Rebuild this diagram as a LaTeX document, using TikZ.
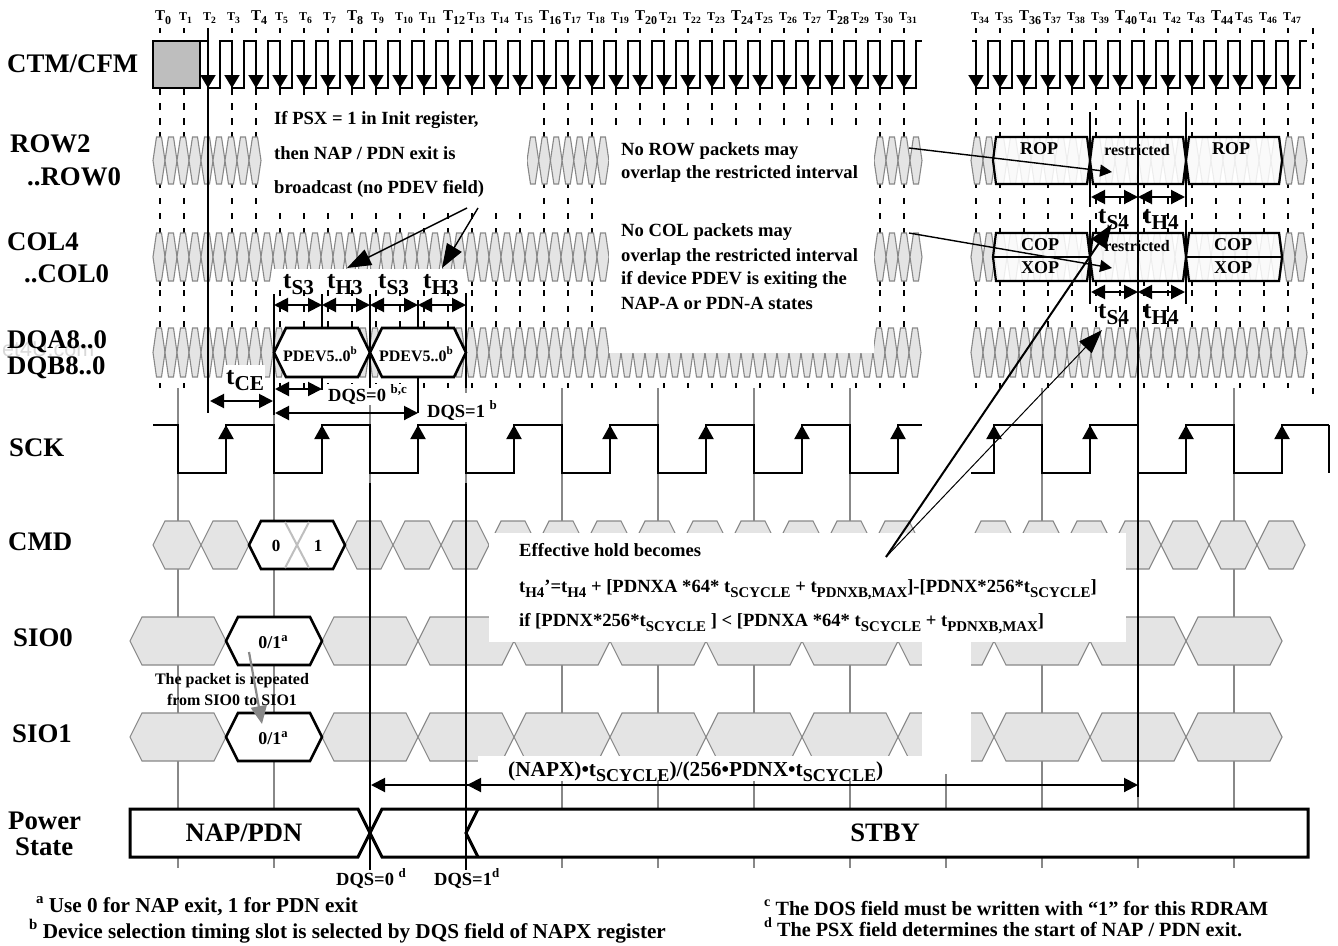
\documentclass[tikz,border=0pt]{standalone}
\usepackage{fontspec}
\setmainfont{Liberation Serif}
\newfontfamily\marksans{Liberation Sans}
\usetikzlibrary{arrows.meta}
\definecolor{cellGray}{HTML}{E4E4E4}
\definecolor{edgeGray}{HTML}{888888}
\definecolor{boxGray}{HTML}{BEBEBE}
\definecolor{markGray}{HTML}{D8D8D8}
\newcommand{\dn}[2][.85]{\raisebox{-.27em}{\scalebox{#1}{#2}}}
\newcommand{\up}[2][.7]{\raisebox{.42em}{\scalebox{#1}{#2}}}
\newcommand{\sized}[1]{\fontsize{#1}{#1}\selectfont\bfseries}
\newcommand{\hexrow}[6]{%
  \foreach \k in {0,...,#2} {
    \draw[hexcell] ({#1+\k*#3},{(#5+#6)/2}) -- ({#1+\k*#3+#4},#5) -- ({#1+(\k+1)*#3-#4},#5)
      -- ({#1+(\k+1)*#3},{(#5+#6)/2}) -- ({#1+(\k+1)*#3-#4},#6) -- ({#1+\k*#3+#4},#6) -- cycle;
  }}
\newcommand{\packet}[6]{%
  \draw[#6] (#1,{(#4+#5)/2}) -- ({#1+#3},#4) -- ({#2-#3},#4) -- (#2,{(#4+#5)/2})
    -- ({#2-#3},#5) -- ({#1+#3},#5) -- cycle;}
\newcommand{\clockticks}{0,...,31,34,35,36,37,38,39,40,41,42,43,44,45,46,47}

\begin{document}
\begin{tikzpicture}[
  x=1pt, y=-1pt,
  hexcell/.style={draw=edgeGray, fill=cellGray, line width=1.1pt},
  wipe/.style={fill=white, draw=none},
  tick/.style={draw=black, line width=1.6pt},
  grid/.style={draw=edgeGray, line width=1.5pt},
  wave/.style={draw=black, line width=2pt},
  solid hex/.style={draw=black, fill=white, line width=2.6pt},
  veil hex/.style={draw=black, fill=white, fill opacity=.85, line width=2.2pt},
  rowname/.style={font=\sized{26.8}, anchor=base west, inner sep=0pt},
  note/.style={font=\sized{18.6}, anchor=base west, inner sep=0pt},
  timing/.style={font=\sized{25}, anchor=base west, inner sep=0pt},
  foot/.style={font=\sized{18.5}, anchor=base west, inner sep=0pt},
  legend/.style={font=\sized{21.2}, anchor=base west, inner sep=0pt},
  field/.style={font=\sized{16}, inner sep=0pt},
  span/.style={{Triangle[length=14pt,width=14pt]}-{Triangle[length=14pt,width=14pt]}, line width=2pt},
  edgefall/.style={-{Triangle[length=13pt,width=15pt]}, line width=2pt},
  edgerise/.style={-{Triangle[length=14pt,width=15pt]}, line width=2pt},
  pointer/.style={-{Triangle[length=12pt,width=12pt]}, line width=1.4pt},
  bigpointer/.style={-{Triangle[length=24pt,width=17pt]}, line width=1.4pt}
]
\useasboundingbox (0,0) rectangle (1338,945);

% clock numbers
\foreach \n in \clockticks {
  \pgfmathtruncatemacro{\rem}{mod(\n,4)}
  \ifnum\rem=0
    \node[font=\sized{15}, anchor=base west, inner sep=0pt] (T\n) at ({155+24*\n},20) {T\dn[.8]{\n}};
  \else
    \node[font=\sized{12}, anchor=base west, inner sep=0pt] (T\n) at ({155+24*\n},20) {T\dn[.8]{\n}};
  \fi
}

% dashed and solid grid
\foreach \n in \clockticks {
  \foreach \a/\b in {28/33, 88/95, 103/110, 118/125, 132/137, 184/188, 198/204, 213/219, 228/233,
                     281/286, 290/296, 306/312, 321/327, 383/388} {
    \draw[tick] ({160+24*\n},\a) -- ({160+24*\n},\b);
  }
}
\foreach \a in {28,43,...,388} {
  \draw[tick] (1313,\a) -- (1313,{\a+6});
}
\foreach \k in {0,...,7,9,10,11} {
  \draw[grid] ({178+96*\k},388) -- ({178+96*\k},868);
}
\draw[grid] (946,774) -- (946,868);

% signal rows
\hexrow{153}{8}{12}{3.5}{137}{184}
\hexrow{527}{6}{11.7}{3.5}{137}{184}
\hexrow{874}{3}{12}{3.5}{137}{184}
\hexrow{971}{27}{12}{3.5}{137}{184}
\hexrow{153}{37}{12}{3.5}{233}{281}
\hexrow{874}{3}{12}{3.5}{233}{281}
\hexrow{971}{27}{12}{3.5}{233}{281}
\hexrow{153}{63}{12}{3.5}{328}{377}
\hexrow{971}{27}{12}{3.5}{328}{377}
\hexrow{153}{23}{48}{12}{521}{569}
\hexrow{130}{11}{96}{12}{617}{665}
\hexrow{130}{11}{96}{12}{713}{761}

% blanks under the annotations
\fill[wipe] (270,100) rectangle (527,208);
\fill[wipe] (609,130) rectangle (874,353);
\fill[wipe] (274,269) rectangle (466,288);
\fill[wipe] (225,365) rectangle (265,395);
\fill[wipe] (322,384) rectangle (416,405);
\fill[wipe] (425,393) rectangle (500,422);
\fill[wipe] (489,533) rectangle (1126,642);
\fill[wipe] (922,380) rectangle (971,762);
\fill[wipe] (478,756) rectangle (922,781);
\fill[wipe] (130,809) rectangle (1308,857);

% CTM/CFM
\draw[wave, fill=boxGray] (153,41) rectangle (200,88);
\draw[wave] (200,41) -- (208,41) -- (208,88)
  \foreach \n in {2,...,30} { -- ({172+24*\n},88) -- ({172+24*\n},41) -- ({184+24*\n},41) -- ({184+24*\n},88) }
  -- (916,88) -- (916,41) -- (922,41);
\draw[wave] (972,41) -- (976,41) -- (976,88)
  \foreach \n in {34,...,46} { -- ({172+24*\n},88) -- ({172+24*\n},41) -- ({184+24*\n},41) -- ({184+24*\n},88) }
  -- (1300,88) -- (1300,41) -- (1307,41);
\foreach \n in {2,...,31} {
  \draw[edgefall] ({160+24*\n},41) -- ({160+24*\n},88);
}
\foreach \n in {34,...,47} {
  \draw[edgefall] ({160+24*\n},41) -- ({160+24*\n},88);
}

% SCK
\draw[wave] (153,425)
  \foreach \k in {0,...,7} { -- ({178+96*\k},425) -- ({178+96*\k},473) -- ({226+96*\k},473) -- ({226+96*\k},425) }
  -- (922,425);
\draw[wave] (971,473) -- (994,473) -- (994,425)
  \foreach \k in {9,...,11} { -- ({178+96*\k},425) -- ({178+96*\k},473) -- ({226+96*\k},473) -- ({226+96*\k},425) }
  -- (1329,425);
\draw[line width=1.1pt] (1329,425) -- (1329,473);
\foreach \k in {0,...,11} {
  \draw[edgerise] ({226+96*\k},473) -- ({226+96*\k},425);
}

% ROW and COL packets
\packet{993}{1090}{3}{137}{184}{veil hex}
\packet{1090}{1186}{3}{137}{184}{veil hex}
\packet{1186}{1282}{3}{137}{184}{veil hex}
\packet{993}{1090}{3}{233}{281}{veil hex}
\packet{1090}{1186}{3}{233}{281}{veil hex}
\packet{1186}{1282}{3}{233}{281}{veil hex}
\draw[line width=2.2pt] (993,257) -- (1090,257);
\draw[line width=2.2pt] (1186,257) -- (1282,257);
\node[field, font=\sized{18}] (rop left) at (1039,149) {ROP};
\node[field] (restricted row) at (1137,150) {restricted};
\node[field, font=\sized{18}] (rop right) at (1231,149) {ROP};
\node[field, font=\sized{18}] (cop left) at (1040,245) {COP};
\node[field] (restricted col) at (1137,246) {restricted};
\node[field, font=\sized{18}] (cop right) at (1233,245) {COP};
\node[field, font=\sized{18}] (xop left) at (1040,268) {XOP};
\node[field, font=\sized{18}] (xop right) at (1233,268) {XOP};

% PDEV, CMD and SIO packets
\packet{274}{370}{12}{328}{377}{solid hex}
\packet{370}{466}{12}{328}{377}{solid hex}
\node[field] (pdev zero) at (320,354) {PDEV5..0\up{b}};
\node[field] (pdev one) at (416,354) {PDEV5..0\up{b}};
\packet{249}{345}{12}{521}{569}{solid hex}
\draw[draw=boxGray, line width=2pt] (285,522) -- (309,568);
\draw[draw=boxGray, line width=2pt] (309,522) -- (285,568);
\node[field, font=\sized{17}] (cmd zero) at (276,546) {0};
\node[field, font=\sized{17}] (cmd one) at (318,546) {1};
\packet{226}{322}{12}{617}{665}{solid hex}
\packet{226}{322}{12}{713}{761}{solid hex}
\node[field, font=\sized{18}] (sio zero) at (273,642) {0/1\up{a}};
\node[field, font=\sized{18}] (sio one) at (273,738) {0/1\up{a}};

% power state
\draw[line width=3pt, line join=miter] (358,809) -- (130,809) -- (130,857) -- (358,857) -- (382,809)
  -- (1308,809) -- (1308,857) -- (382,857) -- cycle;
\draw[line width=3pt] (478,809) -- (466,833) -- (478,857);
\node[font=\sized{26.6}, inner sep=0pt] (nap state) at (244,833) {NAP/PDN};
\node[font=\sized{26.6}, inner sep=0pt] (stby state) at (885,833) {STBY};

% markers
\draw[wave] (208,28) -- (208,413);
\draw[wave] (274,294) -- (274,415);
\draw[wave] (322,294) -- (322,328);
\draw[wave] (322,377) -- (322,390);
\draw[wave] (370,294) -- (370,388);
\draw[wave] (418,300) -- (418,328);
\draw[wave] (418,377) -- (418,413);
\draw[wave] (466,293) -- (466,388);
\draw[wave] (370,483) -- (370,870);
\draw[wave] (466,483) -- (466,870);
\foreach \x in {1090,1186} {
  \draw[wave] (\x,112) -- (\x,207);
  \draw[wave] (\x,220) -- (\x,304);
}
\draw[line width=2.4pt] (1138,100) -- (1138,797);

% spans
\foreach \a/\b in {274/322, 322/370, 370/418, 418/466} {
  \draw[span] (\a,305) -- (\b,305);
}
\draw[span] (210,401) -- (273,401);
\draw[span] (275,389) -- (322,389);
\draw[span] (275,413) -- (418,413);
\foreach \y in {197,292} {
  \draw[span] (1091,\y) -- (1138,\y);
  \draw[span] (1138,\y) -- (1185,\y);
}
\draw[span] (371,785) -- (1138,785);
\draw[-{Triangle[length=14pt,width=14pt]}, line width=2pt] (500,785) -- (467,785);

% timing names
\node[timing] (ts three a) at (283,288) {t\dn{S3}};
\node[timing] (th three a) at (327,288) {t\dn{H3}};
\node[timing] (ts three b) at (378,288) {t\dn{S3}};
\node[timing] (th three b) at (423,288) {t\dn{H3}};
\node[timing] (tce) at (226,384) {t\dn{CE}};
\node[timing] (ts four a) at (1098,223) {t\dn{S4}};
\node[timing] (th four a) at (1143,223) {t\dn{H4}};
\node[timing] (ts four b) at (1098,318) {t\dn{S4}};
\node[timing] (th four b) at (1143,318) {t\dn{H4}};
\node[foot] (dqs zero top) at (328,401) {DQS=0 \up{b,c}};
\node[foot] (dqs one top) at (427,417) {DQS=1 \up{b}};
\node[foot] (dqs zero low) at (336,885) {DQS=0 \up{d}};
\node[foot] (dqs one low) at (434,885) {DQS=1\up{d}};

% row names
\node[anchor=base west, inner sep=0pt, text=markGray, font=\marksans\fontsize{21.5}{21.5}\selectfont] (watermark) at (2,356) {et4U.com};
\node[rowname] (ctm) at (7,72) {CTM/CFM};
\node[rowname] (row two) at (10,152) {ROW2};
\node[rowname] (row zero) at (27,185) {..ROW0};
\node[rowname] (col four) at (7,250) {COL4};
\node[rowname] (col zero) at (24,282) {..COL0};
\node[rowname] (dqa) at (7,348) {DQA8..0};
\node[rowname] (dqb) at (7,374) {DQB8..0};
\node[rowname] (sck) at (9,456) {SCK};
\node[rowname] (cmd) at (8,550) {CMD};
\node[rowname] (sio zero name) at (13,646) {SIO0};
\node[rowname] (sio one name) at (12,742) {SIO1};
\node[rowname] (power) at (8,829) {Power};
\node[rowname] (state) at (15,855) {State};

% notes
\node[note] (psx a) at (274,124) {If PSX = 1 in Init register,};
\node[note] (psx b) at (274,159) {then NAP / PDN exit is};
\node[note] (psx c) at (274,193) {broadcast (no PDEV field)};
\node[note] (no row a) at (621,155) {No ROW packets may};
\node[note] (no row b) at (621,178) {overlap the restricted interval};
\node[note] (no col a) at (621,236) {No COL packets may};
\node[note] (no col b) at (621,261) {overlap the restricted interval};
\node[note] (no col c) at (621,284) {if device PDEV is exiting the};
\node[note] (no col d) at (621,309) {NAP-A or PDN-A states};
\node[note] (hold a) at (519,556) {Effective hold becomes};
\node[note] (hold b) at (519,592) {t\dn[.8]{H4}'=t\dn[.8]{H4} + [PDNXA *64* t\dn[.8]{SCYCLE} + t\dn[.8]{PDNXB,MAX}]-[PDNX*256*t\dn[.8]{SCYCLE}]};
\node[note] (hold c) at (519,626) {if [PDNX*256*t\dn[.8]{SCYCLE} ] < [PDNXA *64* t\dn[.8]{SCYCLE} + t\dn[.8]{PDNXB,MAX}]};
\node[note, font=\sized{16}] (repeat a) [anchor=base] at (232,684) {The packet is repeated};
\node[note, font=\sized{16}] (repeat b) [anchor=base] at (232,705) {from SIO0 to SIO1};
\node[note, font=\sized{21.3}] (napx) at (508,776) {(NAPX)•t\dn{SCYCLE})/(256•PDNX•t\dn{SCYCLE})};

% footnotes
\node[legend] (note a) at (36,912) {\up{a} Use 0 for NAP exit, 1 for PDN exit};
\node[legend] (note b) at (29,938) {\up{b} Device selection timing slot is selected by DQS field of NAPX register};
\node[legend, font=\sized{20.2}] (note c) at (764,915) {\up{c} The DOS field must be written with “1” for this RDRAM};
\node[legend, font=\sized{20.2}] (note d) at (764,936) {\up{d} The PSX field determines the start of NAP / PDN exit.};

% pointers
\coordinate (psx one) at (467,208);
\coordinate (psx two) at (478,208);
\coordinate (h three a) at (347,268);
\coordinate (h three b) at (442,268);
\coordinate (row from) at (909,148);
\coordinate (row to) at (1112,172);
\coordinate (col from) at (909,233);
\coordinate (col to) at (1112,268);
\coordinate (hold) at (886,557);
\coordinate (s four a) at (1112,224);
\coordinate (s four b) at (1102,330);
\coordinate (repeat from) at (249,652);
\coordinate (repeat to) at (262,724);
\draw[bigpointer] (psx one) -- (h three a);
\draw[bigpointer] (psx two) -- (h three b);
\draw[pointer] (row from) -- (row to);
\draw[pointer] (col from) -- (col to);
\draw[bigpointer, line width=2pt] (hold) -- (s four a);
\draw[bigpointer, line width=1pt] (hold) -- (s four b);
\draw[-{Triangle[length=18pt,width=16pt]}, draw=edgeGray, line width=2.2pt] (repeat from) -- (repeat to);
\end{tikzpicture}
\end{document}
